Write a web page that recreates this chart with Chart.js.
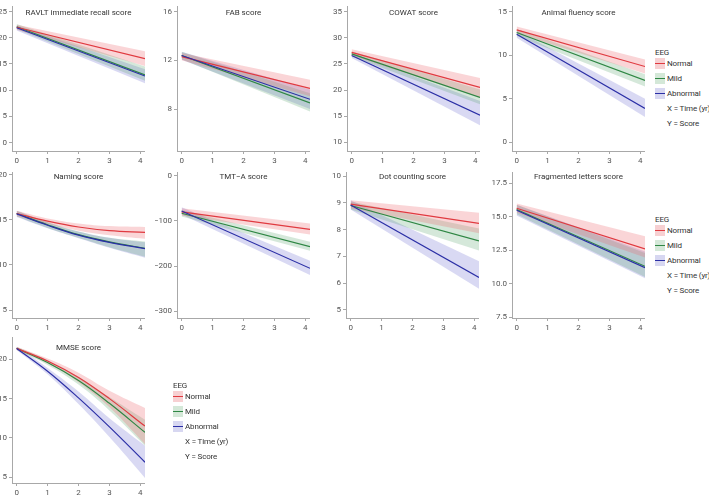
<!DOCTYPE html>
<html>
<head>
<meta charset="utf-8">
<script src="https://cdn.jsdelivr.net/npm/chart.js@4.4.0/dist/chart.umd.min.js"></script>
<style>
  body { margin: 0; background: #fff; }
  #wrap { position: relative; width: 709px; height: 496px; overflow: hidden; font-family: Roboto, sans-serif; }
  canvas { position: absolute; }
  .leg { position: absolute; font-size: 8px; color: #333; letter-spacing: -0.15px; }
  .leg div { position: absolute; white-space: nowrap; line-height: 10px; }
  .sw { width: 10px; height: 11px; }
  .sw span { position: absolute; left: 0; right: 0; top: 5px; height: 1.2px; }
</style>
</head>
<body>
<div id="wrap"></div>
<script>
// time points (years)
const lineTime = [0, 4.15];
const curveTime = [0, 1, 2, 3, 4.15];
const xTicks = [0, 1, 2, 3, 4];

const groups = ['Normal', 'Mild', 'Abnormal'];
const lineColors = ['#e03a40', '#2f8744', '#2b2fa6'];
const bandColors = ['rgba(236,105,112,0.28)', 'rgba(80,160,100,0.24)', 'rgba(95,95,205,0.24)'];
const swatchColors = ['#f7d0d2', '#d4e8d8', '#d7d7f1'];

// each list: [Normal, Mild, Abnormal]
const ravltEst  = [[22.0, 16.0], [22.1, 12.9], [21.9, 12.7]];
const ravltLow  = [[21.5, 14.6], [21.6, 11.8], [21.4, 11.3]];
const ravltHigh = [[22.5, 17.4], [22.6, 14.5], [22.4, 14.0]];
const ravltTicks = [0, 5, 10, 15, 20, 25];

const fabEst  = [[12.3, 9.7], [12.4, 8.5], [12.4, 8.8]];
const fabLow  = [[12.0, 9.05], [12.1, 7.8], [12.05, 8.0]];
const fabHigh = [[12.6, 10.4], [12.7, 9.3], [12.7, 9.6]];
const fabTicks = [8, 12, 16];

const cowatEst  = [[27.2, 20.5], [26.9, 18.6], [26.6, 15.2]];
const cowatLow  = [[26.6, 18.6], [26.4, 17.3], [26.1, 13.3]];
const cowatHigh = [[27.8, 22.3], [27.4, 20.1], [27.1, 17.9]];
const cowatTicks = [10, 15, 20, 25, 30, 35];

const animalEst  = [[12.9, 8.7], [12.6, 7.1], [12.4, 3.9]];
const animalLow  = [[12.5, 7.9], [12.2, 6.4], [12.0, 2.9]];
const animalHigh = [[13.3, 9.5], [13.0, 7.8], [12.8, 5.0]];
const animalTicks = [0, 5, 10, 15];

const namingEst  = [[15.7, 14.85, 14.2, 13.8, 13.6], [15.7, 14.45, 13.35, 12.55, 11.85], [15.65, 14.4, 13.3, 12.5, 11.8]];
const namingLow  = [[15.4, 14.55, 13.8, 13.3, 12.9], [15.35, 14.1, 13.0, 11.95, 10.9], [15.3, 14.05, 12.95, 11.9, 10.8]];
const namingHigh = [[16.0, 15.15, 14.6, 14.3, 14.2], [16.0, 14.75, 13.7, 13.0, 12.6], [16.0, 14.7, 13.7, 13.0, 12.5]];
const namingTicks = [5, 10, 15, 20];

const tmtEst  = [[-80, -119], [-83, -157], [-78, -205]];
const tmtLow  = [[-88, -130], [-90, -166], [-86, -220]];
const tmtHigh = [[-72, -106], [-76, -146], [-70, -188]];
const tmtTicks = [-300, -200, -100, 0];

const dotEst  = [[8.95, 8.23], [8.9, 7.58], [8.92, 6.21]];
const dotLow  = [[8.8, 7.86], [8.75, 7.22], [8.75, 5.79]];
const dotHigh = [[9.1, 8.63], [9.05, 8.04], [9.1, 6.82]];
const dotTicks = [5, 6, 7, 8, 9, 10];

const fragEst  = [[15.65, 12.6], [15.55, 11.3], [15.5, 11.2]];
const fragLow  = [[15.3, 11.95], [15.2, 10.5], [15.1, 10.4]];
const fragHigh = [[16.0, 13.55], [15.9, 12.3], [15.9, 12.4]];
const fragTicks = [7.5, 10.0, 12.5, 15.0, 17.5];

const mmseEst  = [[21.4, 19.8, 17.7, 15.0, 11.5], [21.4, 19.6, 17.3, 14.4, 10.7], [21.4, 18.5, 15.1, 11.4, 6.9]];
const mmseLow  = [[21.2, 19.5, 17.1, 13.9, 9.2], [21.2, 19.3, 16.8, 13.5, 9.0], [21.2, 18.1, 14.3, 10.1, 4.9]];
const mmseHigh = [[21.6, 20.1, 18.3, 16.0, 13.8], [21.6, 19.9, 17.8, 15.2, 12.3], [21.6, 18.9, 15.9, 12.5, 9.0]];
const mmseTicks = [5, 10, 15, 20];

const axisColor = '#a8a8a8';
const tickFont = { family: 'Roboto', size: 8 };

const titlePlugin = {
  id: 'panelTitle',
  afterDatasetsDraw(chart, args, opts) {
    const { ctx, chartArea } = chart;
    ctx.save();
    ctx.font = '8px Roboto';
    ctx.fillStyle = '#333';
    ctx.textAlign = 'center';
    ctx.textBaseline = 'middle';
    ctx.fillText(opts.text, (chartArea.left + chartArea.right) / 2, chartArea.top + opts.dy);
    ctx.restore();
  }
};

const wrap = document.getElementById('wrap');

function makePanel(box, title, xs, est, low, high, yMin, yMax, yTicks, fmt) {
  const [left, top, width, height, yw, padTop, xh, titleDy] = box;
  const cv = document.createElement('canvas');
  cv.width = width; cv.height = height;
  cv.style.left = left + 'px'; cv.style.top = top + 'px';
  wrap.appendChild(cv);

  const curved = xs.length > 2 ? 0.4 : 0;
  const pts = arr => xs.map((x, i) => ({ x: x, y: arr[i] }));
  const datasets = [];
  groups.forEach((g, k) => {
    datasets.push({ data: pts(high[k]), fill: '+1', backgroundColor: bandColors[k],
      borderWidth: 0, pointRadius: 0, order: 5, tension: curved });
    datasets.push({ data: pts(low[k]), fill: false, borderWidth: 0, pointRadius: 0,
      order: 5, tension: curved });
  });
  groups.forEach((g, k) => {
    datasets.push({ label: g, data: pts(est[k]), fill: false, borderColor: lineColors[k],
      borderWidth: 1.2, pointRadius: 0, order: k === 2 ? 0 : 1, tension: curved });
  });

  new Chart(cv, {
    type: 'line',
    data: { datasets },
    plugins: [titlePlugin],
    options: {
      responsive: false,
      animation: false,
      devicePixelRatio: 1,
      layout: { padding: { top: padTop, left: 0, right: 0, bottom: 0 } },
      plugins: { legend: { display: false }, tooltip: { enabled: false }, panelTitle: { text: title, dy: titleDy } },
      scales: {
        x: {
          type: 'linear', min: -0.15, max: 4.15,
          afterBuildTicks: s => { s.ticks = xTicks.map(v => ({ value: v })); },
          afterFit: s => { s.height = xh; },
          ticks: { font: tickFont, color: '#555', padding: 2, maxRotation: 0 },
          grid: { drawOnChartArea: false, tickLength: 3, color: axisColor },
          border: { color: axisColor }
        },
        y: {
          type: 'linear', min: yMin, max: yMax,
          afterBuildTicks: s => { s.ticks = yTicks.map(v => ({ value: v })); },
          afterFit: s => { s.width = yw; },
          ticks: { font: tickFont, color: '#555', padding: 2, callback: fmt },
          grid: { drawOnChartArea: false, tickLength: 3, color: axisColor },
          border: { color: axisColor }
        }
      }
    }
  });
}

const plain = v => String(v).replace('-', '\u2212');
const oneDec = v => v.toFixed(1);

// row 1
makePanel([0, 0, 145, 167, 12, 0, 16, 6], 'RAVLT immediate recall score', lineTime, ravltEst, ravltLow, ravltHigh, -1.6, 25.9, ravltTicks, plain);
makePanel([160, 0, 150, 167, 17, 0, 16, 6], 'FAB score', lineTime, fabEst, fabLow, fabHigh, 4.55, 16.4, fabTicks, plain);
makePanel([330, 0, 150, 167, 17, 0, 16, 6], 'COWAT score', lineTime, cowatEst, cowatLow, cowatHigh, 8.36, 35.9, cowatTicks, plain);
makePanel([495, 0, 150, 167, 17, 0, 16, 6], 'Animal fluency score', lineTime, animalEst, animalLow, animalHigh, -0.99, 15.55, animalTicks, plain);
// row 2
makePanel([0, 166, 145, 168, 12, 4, 16, 4], 'Naming score', curveTime, namingEst, namingLow, namingHigh, 4.13, 20.2, namingTicks, plain);
makePanel([155, 166, 155, 168, 22, 4, 16, 4], 'TMT\u2212A score', lineTime, tmtEst, tmtLow, tmtHigh, -315, 6.5, tmtTicks, plain);
makePanel([330, 166, 149, 168, 16, 4, 16, 4], 'Dot counting score', lineTime, dotEst, dotLow, dotHigh, 4.7, 10.12, dotTicks, plain);
makePanel([490, 166, 155, 168, 22, 4, 16, 4], 'Fragmented letters score', lineTime, fragEst, fragLow, fragHigh, 7.43, 18.3, fragTicks, oneDec);
// row 3
makePanel([0, 331, 145, 165, 12, 4, 13, 10], 'MMSE score', curveTime, mmseEst, mmseLow, mmseHigh, 4.25, 22.75, mmseTicks, plain);

function legend(left, eegY) {
  const box = document.createElement('div');
  box.className = 'leg';
  box.style.left = left + 'px';
  box.style.top = '0px';
  const row = (txt, cy, x) => {
    const d = document.createElement('div');
    d.textContent = txt;
    d.style.left = x + 'px';
    d.style.top = (cy - 5) + 'px';
    box.appendChild(d);
  };
  row('EEG', eegY, 0);
  groups.forEach((g, k) => {
    const cy = eegY + 10.5 + 15 * k;
    const sw = document.createElement('div');
    sw.className = 'sw';
    sw.style.left = '0px';
    sw.style.top = (cy - 5.5) + 'px';
    sw.style.background = swatchColors[k];
    const ln = document.createElement('span');
    ln.style.background = lineColors[k];
    sw.appendChild(ln);
    box.appendChild(sw);
    row(g, cy, 12);
  });
  row('X = Time (yr)', eegY + 10.5 + 45, 12);
  row('Y = Score', eegY + 10.5 + 60, 12);
  wrap.appendChild(box);
}

legend(655, 53);
legend(655, 220);
legend(173, 386);
</script>
</body>
</html>
